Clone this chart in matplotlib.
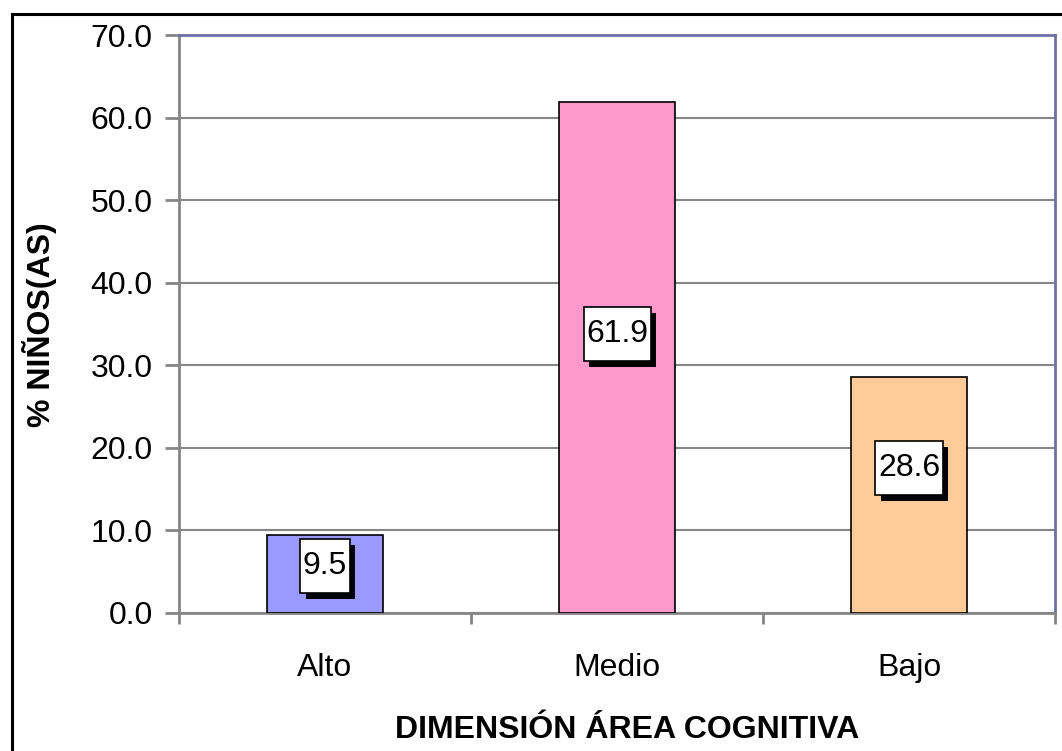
import matplotlib
matplotlib.use("Agg")
import matplotlib.pyplot as plt
import matplotlib.patheffects as pe
import matplotlib.transforms as mtransforms
from matplotlib.lines import Line2D
from matplotlib.patches import Rectangle

categories = ["Alto", "Medio", "Bajo"]
values = [9.5, 61.9, 28.6]
colors = ["#9999FF", "#FF99CC", "#FFCC99"]
yticks = [0, 10, 20, 30, 40, 50, 60, 70]
label_offsets_px = [8, 23, 27]

plt.rcParams['font.family'] = ['Liberation Sans', 'DejaVu Sans']
FS = 23

fig = plt.figure(figsize=(10.62, 7.51), dpi=100)
ax = fig.add_axes([179/1062, 1-613/751, (1055-179)/1062, (613-35)/751])

x = list(range(len(categories)))
ax.bar(x, values, width=0.4, color=colors, edgecolor="black", linewidth=1.2, zorder=3)
ax.set_xlim(-0.5, 2.5)
ax.set_ylim(0, 70)
ax.set_yticks(yticks)
ax.set_yticklabels([f"{v:.1f}" for v in yticks])
ax.set_xticks([-0.5, 0.5, 1.5, 2.5], minor=False)
ax.set_xticklabels([])
ax.set_xticks(x, minor=True)
ax.set_xticklabels(categories, minor=True)
ax.tick_params(axis='x', which='minor', length=0, labelsize=FS, pad=29)
ax.tick_params(axis='x', which='major', length=8, width=2, color="#868686")
ax.tick_params(axis='y', length=10, width=2, color="#868686", labelsize=FS, pad=9)
ax.yaxis.grid(True, color="#868686", linewidth=1.5, zorder=0)
ax.set_axisbelow(True)
for s in ["left", "bottom"]:
    ax.spines[s].set_color("#868686")
    ax.spines[s].set_linewidth(2)
for s in ["top", "right"]:
    ax.spines[s].set_color("#7070A8")
    ax.spines[s].set_linewidth(2)

fig.canvas.draw()
renderer = fig.canvas.get_renderer()
for xi, v, off in zip(x, values, label_offsets_px):
    base = fig.dpi_scale_trans + mtransforms.ScaledTranslation(xi, v/2, ax.transData)
    t = ax.text(0, off/100, f"{v}", transform=base, ha="center", va="center",
                fontsize=FS, zorder=6)
    w = t.get_window_extent(renderer).width + 5
    h = 54
    rect = Rectangle((-w/200, off/100 - h/200), w/100, h/100, transform=base,
                     facecolor="white", edgecolor="black", linewidth=1.2, zorder=5)
    rect.set_path_effects([pe.SimplePatchShadow(offset=(3.8, -4.3), shadow_rgbFace="black", alpha=1), pe.Normal()])
    ax.add_patch(rect)

fig.text(40/1062, 1-325/751, "% NIÑOS(AS)", rotation=90, ha="center", va="center", fontsize=FS, fontweight="bold")
fig.text(627/1062, 1-730/751, "DIMENSIÓN ÁREA COGNITIVA", ha="center", va="center", fontsize=FS, fontweight="bold")

fig.add_artist(Line2D([11.5/1062, 11.5/1062], [0, 1-13.5/751], transform=fig.transFigure, color="black", linewidth=2.2))
fig.add_artist(Line2D([11.5/1062, 1], [1-13.5/751, 1-13.5/751], transform=fig.transFigure, color="black", linewidth=2.2))

fig.savefig("out.png", dpi=100)
